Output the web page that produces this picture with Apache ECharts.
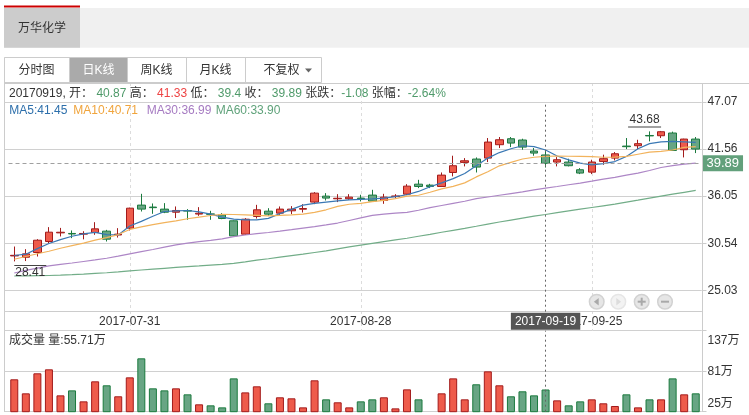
<!DOCTYPE html>
<html><head><meta charset="utf-8">
<script src="https://cdn.jsdelivr.net/npm/echarts@6/dist/echarts.min.js"></script>
<style>html,body{margin:0;padding:0;background:#fff}#c{width:749px;height:415px}</style>
</head><body><div id="c"></div>
<script>
// ---------- DATA ----------
const dates = ['2017-07-17','2017-07-18','2017-07-19','2017-07-20','2017-07-21','2017-07-24','2017-07-25','2017-07-26','2017-07-27','2017-07-28',
'2017-07-31','2017-08-01','2017-08-02','2017-08-03','2017-08-04','2017-08-07','2017-08-08','2017-08-09','2017-08-10','2017-08-11',
'2017-08-14','2017-08-15','2017-08-16','2017-08-17','2017-08-18','2017-08-21','2017-08-22','2017-08-23','2017-08-24','2017-08-25',
'2017-08-28','2017-08-29','2017-08-30','2017-08-31','2017-09-01','2017-09-04','2017-09-05','2017-09-06','2017-09-07','2017-09-08',
'2017-09-11','2017-09-12','2017-09-13','2017-09-14','2017-09-15','2017-09-18','2017-09-19','2017-09-20','2017-09-21','2017-09-22',
'2017-09-25','2017-09-26','2017-09-27','2017-09-28','2017-09-29','2017-10-09','2017-10-10','2017-10-11','2017-10-12','2017-10-13'];
const openP  = [29.05,28.90,29.45,30.74,31.75,31.68,31.60,31.79,31.95,31.50,32.30,35.00,34.77,34.53,34.17,34.36,33.95,33.97,33.86,33.16,
31.60,33.67,34.29,34.06,34.33,34.52,35.35,36.05,35.74,35.74,35.82,36.17,35.54,36.00,36.28,37.45,37.34,37.18,38.82,40.00,
40.39,40.50,42.07,42.77,42.62,41.33,40.87,40.04,40.04,39.14,38.86,40.11,40.50,41.91,41.95,43.15,43.12,43.44,41.48,42.73];
const closeP = [29.12,29.29,30.89,31.83,31.82,31.62,31.68,32.22,31.01,31.60,34.64,34.53,34.70,34.17,34.37,34.30,34.05,33.92,33.43,31.40,
33.35,34.45,33.94,34.53,34.53,34.60,36.40,35.82,35.80,35.93,35.74,35.47,35.93,36.07,37.22,37.18,37.18,38.51,39.61,40.19,
39.45,42.38,42.65,42.26,41.79,41.09,39.89,40.31,39.61,38.75,40.04,40.43,41.01,41.84,42.19,43.10,43.59,41.40,42.73,41.56];
const lowP   = [28.41,28.45,28.98,30.54,31.33,31.13,30.99,31.52,30.74,31.20,32.03,34.25,33.98,34.06,33.48,33.28,33.74,33.28,33.35,31.32,
31.52,33.43,33.74,33.82,33.94,34.13,35.11,35.54,35.35,35.62,35.43,35.43,35.15,35.82,36.17,36.99,36.99,37.18,38.36,39.53,
38.82,40.04,41.68,41.79,41.48,40.78,39.40,39.53,39.53,38.63,38.63,39.72,40.23,41.56,41.56,42.46,42.85,41.37,40.58,41.09];
const highP  = [30.15,29.84,31.01,32.42,32.33,32.03,31.94,33.00,32.10,32.30,34.70,36.32,35.19,35.23,34.84,34.53,34.76,34.33,34.06,33.20,
33.47,35.03,34.64,34.84,34.88,35.11,36.52,36.40,36.28,36.28,36.21,36.79,36.32,36.28,37.45,37.96,37.49,38.82,40.78,40.50,
40.58,42.85,42.97,42.97,42.77,41.68,41.33,40.62,40.43,39.33,40.31,40.90,41.21,42.85,42.65,43.63,43.68,43.60,42.77,42.97];
const volume = [69.8,50.4,78.1,83.6,47.6,54.5,39.3,67.0,61.5,46.3,72.5,98.8,57.3,54.5,57.3,49.0,35.2,33.8,31.0,71.1,
51.7,60.1,36.6,44.9,43.5,31.0,68.4,42.1,38.0,31.0,39.3,42.1,44.9,29.6,55.9,42.1,25.5,50.4,71.1,42.1,
62.9,80.8,61.5,46.3,53.2,47.6,55.71,40.7,33.8,39.3,42.1,36.6,32.9,49.0,31.0,42.1,42.1,71.1,49.0,50.4];
const ma5  = [29.10,29.25,29.90,30.50,30.95,31.35,31.63,31.80,31.55,31.50,32.55,33.10,33.70,34.25,34.33,34.37,34.20,33.95,33.60,33.35,
33.28,33.28,33.45,34.00,34.50,35.00,35.20,35.35,35.50,35.62,35.68,35.72,35.82,36.00,36.21,36.60,37.15,37.60,38.10,38.70,
39.60,40.50,41.15,41.60,41.95,41.85,41.45,40.75,40.30,39.92,39.72,39.85,40.10,40.70,41.60,42.20,42.40,42.46,42.40,42.34];
const ma10 = [28.66,28.98,29.30,29.60,29.95,30.25,30.55,30.90,31.20,31.55,32.15,32.45,32.72,32.95,33.15,33.40,33.60,33.78,33.92,33.90,
33.86,33.80,33.74,33.80,33.86,33.95,34.15,34.45,34.85,35.10,35.20,35.40,35.55,35.75,36.05,36.15,36.50,36.90,37.20,37.60,
38.30,38.90,39.60,40.00,40.40,40.60,40.71,40.75,40.72,40.70,40.68,40.60,40.62,40.70,40.95,41.20,41.30,41.45,41.75,41.85];
const ma30 = [27.05,27.35,27.62,27.88,28.05,28.22,28.40,28.58,28.78,29.02,29.29,29.55,29.80,30.08,30.35,30.55,30.72,30.88,31.05,31.30,
31.50,31.65,31.79,31.95,32.12,32.30,32.48,32.68,32.90,33.20,33.50,33.80,33.95,34.05,34.15,34.40,34.70,34.95,35.20,35.45,
35.75,35.95,36.15,36.35,36.55,36.78,36.99,37.18,37.38,37.58,37.80,38.05,38.25,38.50,38.75,39.05,39.40,39.62,39.80,39.92];
const ma60 = [26.70,26.72,26.74,26.76,26.80,26.85,26.92,27.00,27.08,27.18,27.30,27.40,27.50,27.60,27.70,27.80,27.88,27.97,28.06,28.18,
28.35,28.55,28.72,28.90,29.08,29.25,29.45,29.65,29.88,30.10,30.32,30.52,30.72,30.92,31.12,31.35,31.58,31.82,32.05,32.28,
32.52,32.78,33.02,33.25,33.48,33.70,33.90,34.12,34.32,34.52,34.72,34.92,35.12,35.35,35.58,35.82,36.05,36.28,36.50,36.72];
const priceTicks = [25.03, 30.54, 36.05, 41.56, 47.07];
const volTicks = [25, 81, 137];
const xLabelDates = ['2017-07-31', '2017-08-28', '2017-09-25'];
const maNames = ['MA5', 'MA10', 'MA30', 'MA60'];
const maHeader = ['41.45', '40.71', '36.99', '33.90'];
const selDate = '2017-09-19';
const selInfo = {date: '20170919', open: '40.87', high: '41.33', low: '39.4', close: '39.89', chg: '-1.08', pct: '-2.64%', vol: '55.71万'};
const tabs = ['分时图', '日K线', '周K线', '月K线', '不复权'];
const stockName = '万华化学';

// ---------- STYLE ----------
const FONT = "'Liberation Sans', Arial, 'Noto Sans CJK SC', sans-serif";
const UP = '#ee5b4b', UP_B = '#a31b1b', DN = '#68a584', DN_B = '#1b7a3e';
const GREEN_T = '#4f9a6a', RED_T = '#ee4444';
const maColors = ['#3a78b4', '#f2b35c', '#ad86c6', '#72ad88'];
const maTextColors = ['#2d6fab', '#f0a43c', '#a67bc2', '#5fa27a'];
const yMin = 22.52, yMax = 47.07;

const candles = dates.map((d, i) => [openP[i], closeP[i], lowP[i], highP[i]]);
const volData = volume.map((v, i) => {
  const up = closeP[i] >= openP[i];
  return {value: v, itemStyle: {color: up ? UP : DN, borderColor: up ? UP_B : DN_B, borderWidth: 1}};
});
const isLabelDate = (idx, val) => xLabelDates.indexOf(val) >= 0;

const chart = echarts.init(document.getElementById('c'), null, {renderer: 'canvas'});
const option = {
  animation: false,
  textStyle: {fontFamily: FONT},
  grid: [
    {left: 8.5, width: 693, top: 102, height: 209.7},
    {left: 8.5, width: 693, top: 330.7, height: 81},
    {left: 14.3, width: 681.45, top: 83, height: 247.7}
  ],
  xAxis: [
    {type: 'category', gridIndex: 0, data: dates, boundaryGap: true,
     axisLine: {show: true, lineStyle: {color: '#cccccc'}}, axisTick: {show: false},
     axisLabel: {interval: isLabelDate, margin: 4, color: '#333', fontSize: 12, fontFamily: FONT},
     splitLine: {show: false}},
    {type: 'category', gridIndex: 1, data: dates, boundaryGap: true,
     axisLine: {show: false}, axisTick: {show: false}, axisLabel: {show: false}, splitLine: {show: false}},
    {type: 'category', gridIndex: 2, data: dates, boundaryGap: false,
     axisLine: {show: false}, axisTick: {show: false}, axisLabel: {show: false},
     splitLine: {show: true, interval: isLabelDate, lineStyle: {color: '#dcdcdc', type: [3, 3]}}}
  ],
  yAxis: [
    {type: 'value', gridIndex: 0, position: 'right', min: yMin, max: yMax,
     axisLine: {show: false},
     axisTick: {show: true, customValues: priceTicks, length: 5, lineStyle: {color: '#cccccc'}},
     axisLabel: {customValues: priceTicks, margin: 6, color: '#333', fontSize: 12, fontFamily: FONT,
                 formatter: v => Number(v).toFixed(2)},
     splitLine: {show: true, lineStyle: {color: '#d0d0d0'}}},
    {type: 'value', gridIndex: 1, position: 'right', min: volTicks[0], max: volTicks[volTicks.length - 1],
     axisLine: {show: false},
     axisTick: {show: true, customValues: volTicks, length: 5, lineStyle: {color: '#cccccc'}},
     axisLabel: {customValues: volTicks, margin: 6, color: '#333', fontSize: 12, fontFamily: FONT,
                 formatter: v => {
                   if (v === volTicks[volTicks.length - 1]) return '{t|' + v + '万}';
                   if (v === volTicks[0]) return '{b|' + v + '万}';
                   return v + '万';
                 },
                 rich: {t: {padding: [20, 0, 0, 0], fontSize: 12, color: '#333'}, b: {padding: [0, 0, 17, 0], fontSize: 12, color: '#333'}}},
     splitLine: {show: true, lineStyle: {color: '#d0d0d0'}}},
    {type: 'value', gridIndex: 2, show: false}
  ],
  series: [
    {type: 'candlestick', name: 'K', xAxisIndex: 0, yAxisIndex: 0, data: candles, barWidth: 8,
     itemStyle: {color: UP, color0: DN, borderColor: UP_B, borderColor0: DN_B, borderWidth: 1},
     markPoint: {
       symbol: 'rect', silent: true, animation: false,
       itemStyle: {color: '#444'},
       data: [
         {type: 'max', valueDim: 'highest', symbolSize: [33, 1], symbolOffset: [-16.5, -4],
          label: {show: true, position: 'top', distance: 1, color: '#333', fontSize: 12, fontFamily: FONT,
                  formatter: p => Number(p.value).toFixed(2)}},
         {type: 'min', valueDim: 'lowest', symbolSize: [32, 1], symbolOffset: [16, 4],
          label: {show: true, position: 'bottom', distance: 1, color: '#333', fontSize: 12, fontFamily: FONT,
                  formatter: p => Number(p.value).toFixed(2)}}
       ]
     },
     markLine: {
       symbol: ['none', 'none'], silent: true, animation: false,
       data: [
         {xAxis: selDate, lineStyle: {color: '#666', type: [2, 3], width: 1},
          label: {show: true, position: 'start', formatter: selDate, distance: 1, color: '#fff',
                  backgroundColor: '#555', padding: [3, 4, 2, 4], fontSize: 12, fontFamily: FONT}},
         {yAxis: Number(selInfo.close), lineStyle: {color: '#a0a0a0', type: [4, 3], width: 1},
          label: {show: true, position: 'end', formatter: selInfo.close, distance: 1, color: '#fff',
                  backgroundColor: '#62a07b', padding: [2, 4, 1, 4], fontSize: 13, fontFamily: FONT}}
       ]
     }},
    ...maNames.map((n, k) => ({
      type: 'line', name: n, xAxisIndex: 0, yAxisIndex: 0, data: [ma5, ma10, ma30, ma60][k],
      showSymbol: false, symbol: 'none', silent: true, smooth: false,
      lineStyle: {color: maColors[k], width: 1.2}
    })),
    {type: 'bar', name: 'VOL', xAxisIndex: 1, yAxisIndex: 1, data: volData, barWidth: 8, clip: true,
     markLine: {symbol: ['none', 'none'], silent: true, animation: false,
       data: [{xAxis: selDate, lineStyle: {color: '#666', type: [2, 3], width: 1}, label: {show: false}}]}}
  ]
};
chart.setOption(option);

// ---------- FRAME / UI (graphic) ----------
function sp(y) { const d = Math.round(y * 2); return (d + 1) % 2 === 0 ? d / 2 : (d + 1) / 2; }
const gLine = (x1, y1, x2, y2, c, dash) => ({type: 'line', silent: true, z: 50,
  shape: {x1, y1, x2, y2}, style: {stroke: c || '#cccccc', lineWidth: 1, lineDash: dash || null}});
const gText = (x, y, text, fill, align, extra) => ({type: 'text', silent: true, z: 60, x, y,
  style: Object.assign({text, fill: fill || '#333', font: '12px ' + FONT, align: align || 'left', verticalAlign: 'middle'}, extra || {})});

const G = [];
// top tab bar
G.push({type: 'rect', silent: true, z: 40, shape: {x: 4, y: 8, width: 745, height: 39.7}, style: {fill: '#f0f0f0'}});
G.push({type: 'rect', silent: true, z: 41, shape: {x: 4, y: 8, width: 76, height: 39.7}, style: {fill: '#cccccc'}});
G.push({type: 'rect', silent: true, z: 42, shape: {x: 4, y: 5.5, width: 76, height: 2}, style: {fill: '#cc0000'}});
G.push(gText(42, 28.5, stockName, '#333', 'center'));
// button row
const cellX = [4.5, 69.5, 127.5, 186.5, 245.5, 321.5];
G.push({type: 'rect', silent: true, z: 40, shape: {x: 4.5, y: 57.5, width: 317, height: 25}, style: {fill: '#fff', stroke: '#cccccc', lineWidth: 1}});
G.push({type: 'rect', silent: true, z: 41, shape: {x: 69.5, y: 57.5, width: 58, height: 25}, style: {fill: '#aaaaaa', stroke: '#cccccc', lineWidth: 1}});
for (let k = 1; k < cellX.length - 1; k++) G.push(gLine(cellX[k], 57.5, cellX[k], 82.5));
const txtX = [36.5, 98.5, 156.5, 215.5, 281.5];
tabs.forEach((t, k) => G.push(gText(txtX[k], 70.5, t, k === 1 ? '#ffffff' : '#333', 'center')));
G.push({type: 'polygon', silent: true, z: 60, shape: {points: [[305, 68.5], [312, 68.5], [308.5, 72.5]]}, style: {fill: '#666'}});
// frame lines
G.push(gLine(4, 83.5, 749, 83.5));
G.push(gLine(4.5, 57.5, 4.5, 412));
G.push(gLine(702.5, 83, 702.5, 412));
// stubs for horizontal grid lines between left border and grid
const stubY = priceTicks.map(v => chart.convertToPixel({yAxisIndex: 0}, v))
  .concat([chart.convertToPixel({yAxisIndex: 0}, yMin)])
  .concat(volTicks.map(v => chart.convertToPixel({yAxisIndex: 1}, v)));
stubY.forEach(y => { const yy = sp(y); G.push(gLine(4.5, yy, 9, yy, '#d0d0d0')); });
// info row
G.push({type: 'text', silent: true, z: 60, x: 9, y: 93.5, style: {
  text: selInfo.date + ', 开： {g|' + selInfo.open + '} 高： {r|' + selInfo.high + '} 低： {g|' + selInfo.low +
        '} 收： {g|' + selInfo.close + '} 张跌：{g|' + selInfo.chg + '} 张幅：{g|' + selInfo.pct + '}',
  fill: '#333', font: '12px ' + FONT, verticalAlign: 'middle',
  rich: {g: {fill: GREEN_T, font: '12px ' + FONT}, r: {fill: RED_T, font: '12px ' + FONT}}}});
// MA legend row
const maX = [9.3, 73.3, 146.7, 215.7];
maNames.forEach((n, k) => G.push(gText(maX[k], 111, n + ':' + maHeader[k], maTextColors[k])));
// volume title
G.push(gText(9, 341, '成交量 量:' + selInfo.vol, '#333'));
// zoom buttons
const btn = [596.7, 618.3, 641.7, 665];
btn.forEach((cx, k) => {
  const dis = k === 1;
  G.push({type: 'circle', silent: true, z: 55, shape: {cx, cy: 301.7, r: 7.3},
          style: {fill: dis ? '#f3f3f3' : '#e6e6e6', stroke: dis ? '#e6e6e6' : '#d2d2d2', lineWidth: 1.5}});
  const gc = dis ? '#dcdcdc' : '#a9a9a9';
  if (k === 0) G.push({type: 'polygon', silent: true, z: 56, shape: {points: [[cx + 2, 298], [cx + 2, 305.4], [cx - 2.8, 301.7]]}, style: {fill: gc}});
  if (k === 1) G.push({type: 'polygon', silent: true, z: 56, shape: {points: [[cx - 2, 298], [cx - 2, 305.4], [cx + 2.8, 301.7]]}, style: {fill: gc}});
  if (k >= 2) G.push({type: 'rect', silent: true, z: 56, shape: {x: cx - 4, y: 300.7, width: 8, height: 2}, style: {fill: gc}});
  if (k === 2) G.push({type: 'rect', silent: true, z: 56, shape: {x: cx - 1, y: 297.7, width: 2, height: 8}, style: {fill: gc}});
});
chart.setOption({graphic: G});
</script>
</body></html>
